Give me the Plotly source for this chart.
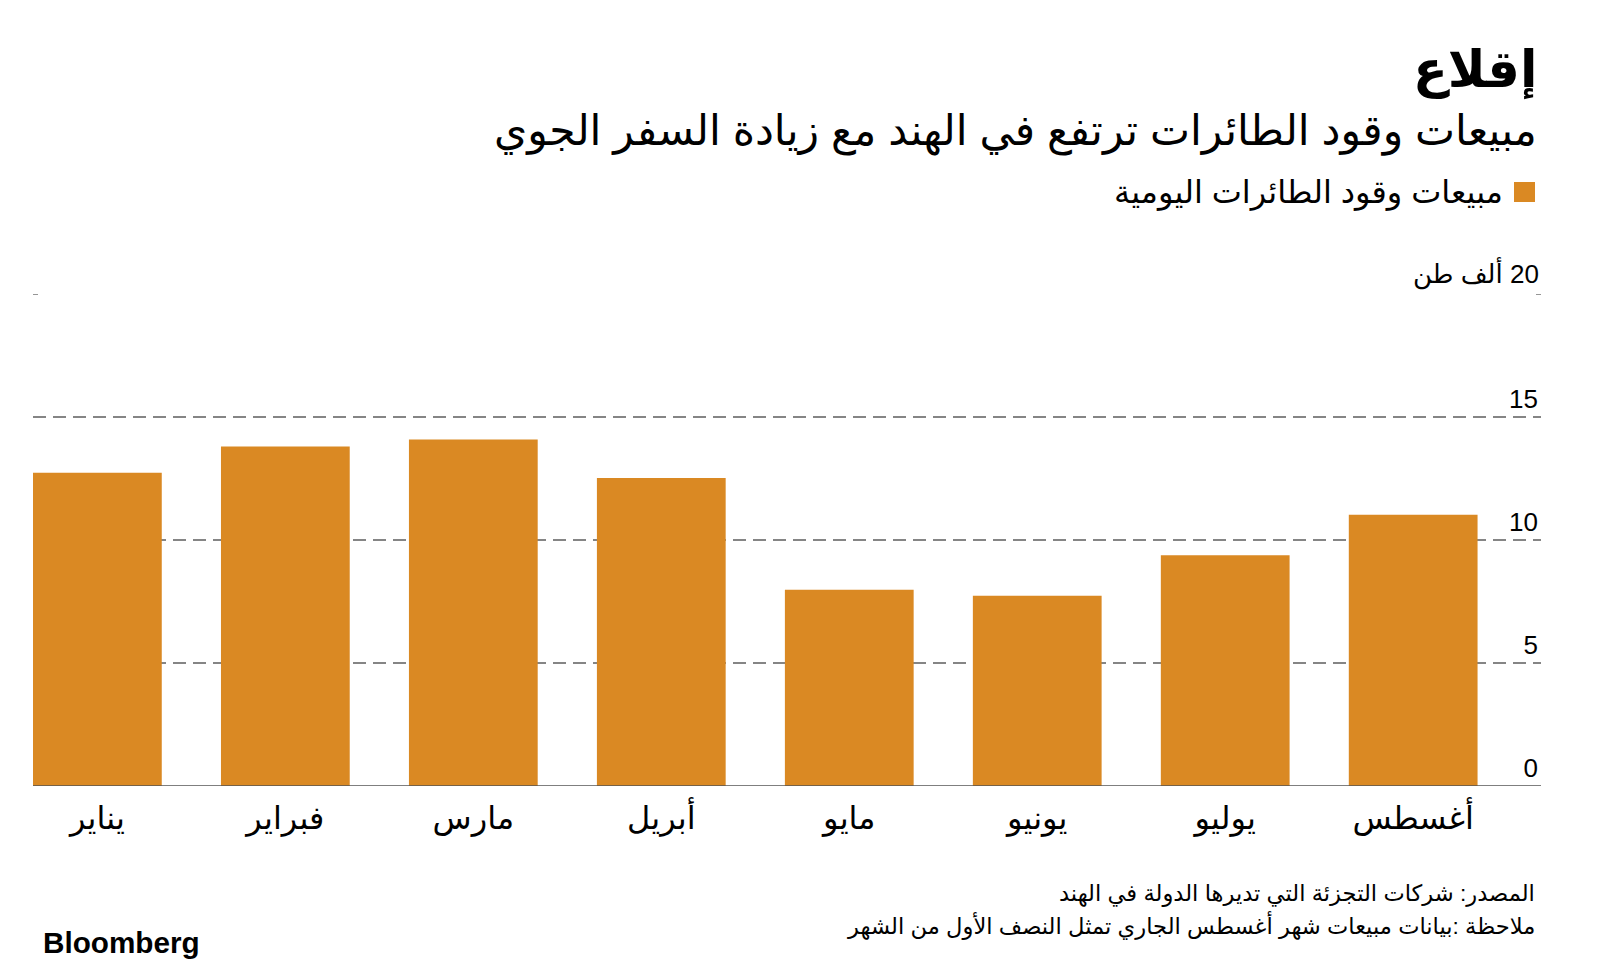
import plotly.graph_objects as go

# ---- data ----
months = ["يناير", "فبراير", "مارس", "أبريل", "مايو", "يونيو", "يوليو", "أغسطس"]
sales = [12.73, 13.8, 14.09, 12.52, 7.98, 7.73, 9.38, 11.03]
y_tickvals = [0, 5, 10, 15]
y_ticktext = ["0", "5", "10", "15"]
y_top_val = 20
y_top_text = "\u202b20 ألف طن\u202c"
grid_vals = [5, 10, 15]

title = "إقلاع"
subtitle = "مبيعات وقود الطائرات ترتفع في الهند مع زيادة السفر الجوي"
legend_label = "مبيعات وقود الطائرات اليومية"
source = "المصدر: شركات التجزئة التي تديرها الدولة في الهند"
note = "ملاحظة :بيانات مبيعات شهر أغسطس الجاري تمثل النصف الأول من الشهر"

ORANGE = "#DA8923"
GRID = "#5e5e5e"
FONT = "Liberation Sans, DejaVu Sans, sans-serif"

W, H = 1600, 968
PL, PR, PT, PB = 33, 1541, 294, 786


def py(ypx):
    return (PB - ypx) / (PB - PT)


def px(xpx):
    return (xpx - PL) / (PR - PL)


fig = go.Figure()
fig.add_trace(go.Bar(x=list(range(len(months))), y=sales, marker_color=ORANGE,
                     marker_line_width=0, showlegend=False, hoverinfo="skip"))

shapes = []
for g in grid_vals:
    shapes.append(dict(type="line", xref="paper", yref="y", x0=0, x1=1, y0=g, y1=g,
                       line=dict(color=GRID, width=1.3, dash="13px,7px"), layer="below"))
shapes.append(dict(type="line", xref="paper", yref="y", x0=0, x1=1, y0=0, y1=0,
                   line=dict(color="#555555", width=1.5), layer="above"))
for a, b in [(0, px(PL + 5)), (px(PR - 5), 1)]:
    shapes.append(dict(type="line", xref="paper", yref="y", x0=a, x1=b, y0=y_top_val, y1=y_top_val,
                       line=dict(color=GRID, width=1.3), layer="below"))
# legend swatch
shapes.append(dict(type="rect", xref="paper", yref="paper",
                   x0=px(1514), x1=px(1535), y0=py(202), y1=py(182),
                   fillcolor=ORANGE, line_width=0))

annotations = [
    dict(text="<b>" + title + "</b>", x=px(1539), y=py(71), xanchor="right", yanchor="middle",
         font=dict(size=51, color="#000", family=FONT)),
    dict(text=subtitle, x=px(1539), y=py(131), xanchor="right", yanchor="middle",
         font=dict(size=42.5, color="#000", family=FONT)),
    dict(text=legend_label, x=px(1505), y=py(192), xanchor="right", yanchor="middle",
         font=dict(size=32, color="#000", family=FONT)),
    dict(text=source, x=px(1537), y=py(894), xanchor="right", yanchor="middle",
         font=dict(size=22.6, color="#000", family=FONT)),
    dict(text=note, x=px(1537), y=py(925), xanchor="right", yanchor="middle",
         font=dict(size=22.6, color="#000", family=FONT)),
    dict(text="<b>Bloomberg</b>", x=px(41), y=py(942), xanchor="left", yanchor="middle",
         font=dict(size=29.7, color="#000", family="Liberation Sans, Arial, sans-serif")),
]
for a in annotations:
    a.update(xref="paper", yref="paper", showarrow=False)
# top y-axis label (drawn on the y scale)
annotations.append(dict(text=y_top_text, xref="paper", yref="y", x=1, y=y_top_val,
                        xanchor="right", yanchor="bottom", yshift=2, showarrow=False,
                        font=dict(size=26, color="#000", family=FONT)))

fig.update_layout(
    width=W, height=H,
    margin=dict(l=PL, r=W - PR, t=PT, b=H - PB, pad=0),
    paper_bgcolor="white", plot_bgcolor="white",
    bargap=0.315,
    shapes=shapes, annotations=annotations,
    font=dict(family=FONT, color="#000"),
    xaxis=dict(range=[-0.3425, 7.68], tickvals=list(range(len(months))), ticktext=months,
               showgrid=False, zeroline=False, showline=False, ticks="",
               tickfont=dict(size=32, color="#000", family=FONT), ticklabelstandoff=10),
    yaxis=dict(range=[0, 20], tickvals=y_tickvals, ticktext=y_ticktext, side="right",
               ticklabelposition="inside top", showgrid=False, zeroline=False, showline=False,
               ticks="", tickfont=dict(size=26, color="#000", family=FONT)),
)

fig.write_html("out.html")
